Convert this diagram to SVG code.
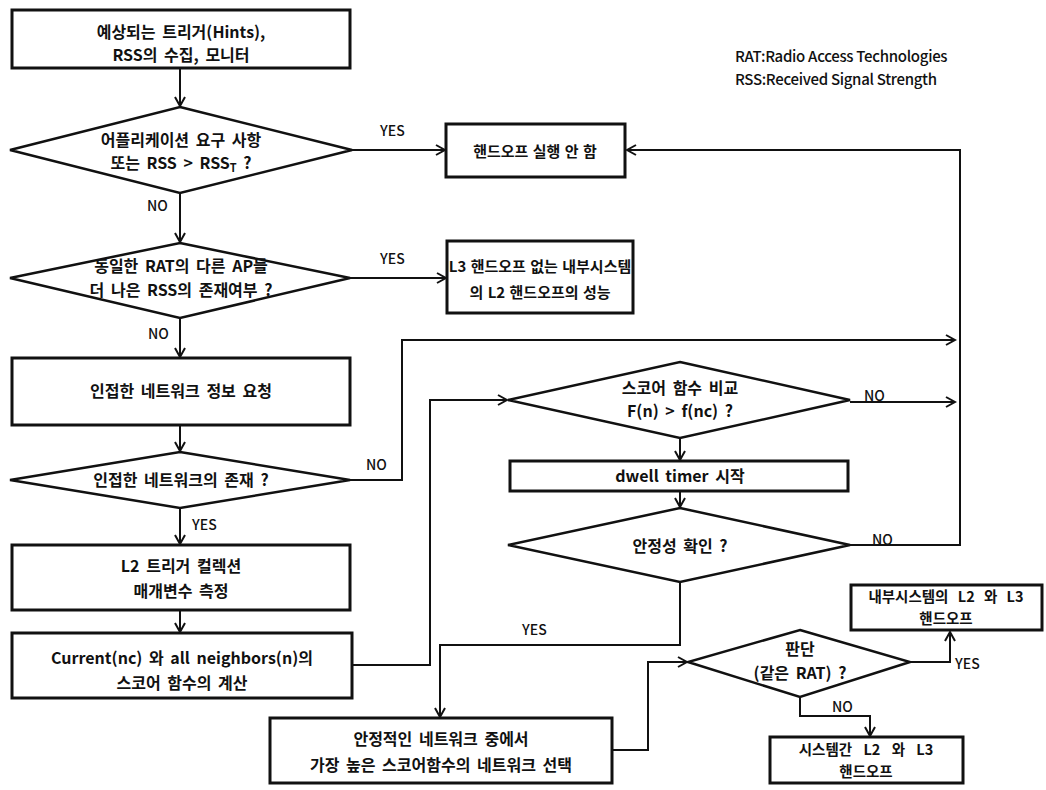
<svg xmlns="http://www.w3.org/2000/svg" width="1046" height="790" viewBox="0 0 1046 790">
<style>
.box{fill:#fff;stroke:#111;stroke-width:3}
.dia{fill:#fff;stroke:#111;stroke-width:2.5}
.t{font-family:"Noto Sans CJK KR","Noto Sans",sans-serif;font-size:16px;font-weight:bold;fill:#111;text-anchor:middle;word-spacing:3px}
.s{font-size:14.5px}
.lbl{font-family:"Noto Sans CJK KR","Noto Sans",sans-serif;font-size:14px;font-weight:500;fill:#111}
.lg{font-family:"Noto Sans CJK KR","Noto Sans",sans-serif;font-size:15px;font-weight:500;fill:#111;letter-spacing:-0.3px}
.c{fill:none;stroke:#111;stroke-width:2}
</style>
<defs>
<marker id="a" markerWidth="12" markerHeight="12" refX="10" refY="6" orient="auto" markerUnits="userSpaceOnUse">
<path d="M1,1 L10,6 L1,11" fill="none" stroke="#111" stroke-width="2"/>
</marker>
</defs>
<rect width="1046" height="790" fill="#fff"/>

<g id="legend">
<text class="lg" x="735" y="62">RAT:Radio Access Technologies</text>
<text class="lg" x="735" y="85">RSS:Received Signal Strength</text>
</g>

<g id="n1">
<rect class="box" x="12" y="10" width="338" height="58"/>
<text class="t" x="181" y="38">예상되는 트리거(Hints),</text>
<text class="t" x="181" y="61">RSS의 수집, 모니터</text>
</g>
<g id="d1">
<polygon class="dia" points="180,107 352,150 180,193 10,150"/>
<text class="t" x="181" y="146">어플리케이션 요구 사항</text>
<text class="t" x="181" y="169">또는 RSS &gt; RSS<tspan font-size="11" dy="3">T</tspan><tspan dy="-3"> ?</tspan></text>
</g>
<g id="n2">
<rect class="box" x="446" y="124" width="179" height="53"/>
<text class="t" x="535" y="157" style="font-size:15px;word-spacing:1px">핸드오프 실행 안 함</text>
</g>
<g id="d2">
<polygon class="dia" points="180,243 350,278 180,318 10,278"/>
<text class="t" x="181" y="272">동일한 RAT의 다른 AP들</text>
<text class="t" x="181" y="296">더 나은 RSS의 존재여부 ?</text>
</g>
<g id="n3">
<rect class="box" x="447" y="241" width="186" height="72"/>
<text class="t" x="540" y="272" style="font-size:15px;word-spacing:1px">L3 핸드오프 없는 내부시스템</text>
<text class="t" x="540" y="298" style="font-size:15px;word-spacing:1px">의 L2 핸드오프의 성능</text>
</g>
<g id="n4">
<rect class="box" x="12" y="358" width="338" height="67"/>
<text class="t" x="181" y="397">인접한 네트워크 정보 요청</text>
</g>
<g id="d3">
<polygon class="dia" points="180,452 350,480 180,508 10,480"/>
<text class="t" x="181" y="486">인접한 네트워크의 존재 ?</text>
</g>
<g id="n5">
<rect class="box" x="12" y="545" width="338" height="65"/>
<text class="t" x="181" y="572">L2 트리거 컬렉션</text>
<text class="t" x="181" y="597">매개변수 측정</text>
</g>
<g id="n6">
<rect class="box" x="12" y="633" width="340" height="65"/>
<text class="t" x="182" y="664">Current(nc) 와 all neighbors(n)의</text>
<text class="t" x="182" y="689">스코어 함수의 계산</text>
</g>
<g id="d4">
<polygon class="dia" points="680,362 850,400 680,438 508,400"/>
<text class="t" x="680" y="394">스코어 함수 비교</text>
<text class="t" x="680" y="417">F(n) &gt; f(nc) ?</text>
</g>
<g id="n7">
<rect class="box" x="510" y="461" width="338" height="30"/>
<text class="t" x="680" y="482">dwell timer 시작</text>
</g>
<g id="d5">
<polygon class="dia" points="680,508 850,545 680,582 508,545"/>
<text class="t" x="680" y="552">안정성 확인 ?</text>
</g>
<g id="n8">
<rect class="box" x="270" y="718" width="342" height="65"/>
<text class="t" x="441" y="745">안정적인 네트워크 중에서</text>
<text class="t" x="441" y="771">가장 높은 스코어함수의 네트워크 선택</text>
</g>
<g id="d6">
<polygon class="dia" points="800,630 910,662 800,697 688,662"/>
<text class="t" x="800" y="655">판단</text>
<text class="t" x="800" y="679">(같은 RAT) ?</text>
</g>
<g id="n9">
<rect class="box" x="851" y="585" width="191" height="45"/>
<text class="t s" x="946" y="602" style="word-spacing:6px">내부시스템의 L2 와 L3</text>
<text class="t s" x="946" y="624">핸드오프</text>
</g>
<g id="n10">
<rect class="box" x="770" y="737" width="193" height="46"/>
<text class="t s" x="866" y="755" style="word-spacing:8px">시스템간 L2 와 L3</text>
<text class="t s" x="866" y="777">핸드오프</text>
</g>

<g id="connectors">
<path class="c" d="M180,68 V106" marker-end="url(#a)"/>
<path class="c" d="M352,150 H445" marker-end="url(#a)"/>
<path class="c" d="M180,193 V242" marker-end="url(#a)"/>
<path class="c" d="M350,278 H446" marker-end="url(#a)"/>
<path class="c" d="M180,318 V357" marker-end="url(#a)"/>
<path class="c" d="M180,425 V451" marker-end="url(#a)"/>
<path class="c" d="M350,480 H402 V340 H955" marker-end="url(#a)"/>
<path class="c" d="M180,508 V544" marker-end="url(#a)"/>
<path class="c" d="M180,610 V632" marker-end="url(#a)"/>
<path class="c" d="M352,665 H430 V400 H507" marker-end="url(#a)"/>
<path class="c" d="M850,402 H955" marker-end="url(#a)"/>
<path class="c" d="M680,438 V460" marker-end="url(#a)"/>
<path class="c" d="M680,491 V507" marker-end="url(#a)"/>
<path class="c" d="M850,545 H960 V150 H627" marker-end="url(#a)"/>
<path class="c" d="M680,582 V645 H440 V717" marker-end="url(#a)"/>
<path class="c" d="M612,750 H648 V662 H687" marker-end="url(#a)"/>
<path class="c" d="M910,662 H950 V632" marker-end="url(#a)"/>
<path class="c" d="M800,697 V716 H870 V736" marker-end="url(#a)"/>
<text class="lbl" x="380" y="136">YES</text>
<text class="lbl" x="147" y="211">NO</text>
<text class="lbl" x="380" y="264">YES</text>
<text class="lbl" x="148" y="339">NO</text>
<text class="lbl" x="366" y="470">NO</text>
<text class="lbl" x="192" y="530">YES</text>
<text class="lbl" x="864" y="401">NO</text>
<text class="lbl" x="872" y="545">NO</text>
<text class="lbl" x="522" y="635">YES</text>
<text class="lbl" x="955" y="669">YES</text>
<text class="lbl" x="832" y="712">NO</text>
</g>
</svg>
